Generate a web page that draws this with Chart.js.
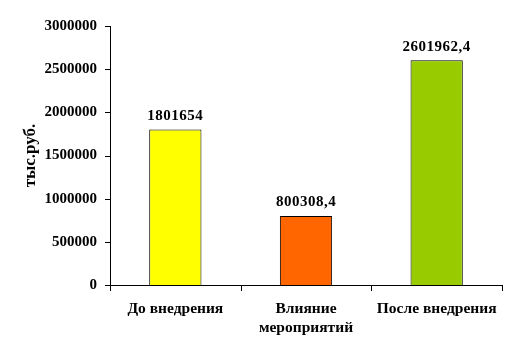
<!DOCTYPE html>
<html>
<head>
<meta charset="utf-8">
<script src="https://cdn.jsdelivr.net/npm/chart.js@4"></script>
<style>
  html, body { margin: 0; padding: 0; background: #fff; }
  canvas { position: absolute; left: 0; top: 0; }
</style>
</head>
<body>
<canvas id="canvas" width="518" height="352"></canvas>
<script>
var categories = ['До внедрения', ['Влияние', 'мероприятий'], 'После внедрения'];
var values = [1801654, 800308.4, 2601962.4];
var valueLabels = ['1801654', '800308,4', '2601962,4'];
var barColors = ['#FFFF00', '#FF6600', '#99CC00'];
var yTicks = [0, 500000, 1000000, 1500000, 2000000, 2500000, 3000000];

var font = { family: '"Liberation Serif", "Times New Roman", serif', size: 15, weight: 'bold' };

// подписи значений над столбцами
var valueLabelPlugin = {
    id: 'valueLabels',
    afterDatasetsDraw: function (chart) {
        var ctx = chart.ctx;
        var meta = chart.getDatasetMeta(0);
        ctx.save();
        ctx.font = 'bold 15px "Liberation Serif", serif';
        ctx.letterSpacing = '0.5px';
        ctx.fillStyle = '#000';
        ctx.textAlign = 'center';
        ctx.textBaseline = 'bottom';
        for (var i = 0; i < meta.data.length; i++) {
            var bar = meta.data[i];
            ctx.fillText(valueLabels[i], bar.x, bar.y - 6);
        }
        ctx.restore();
    }
};

// оси и засечки по шкалам графика
var axisPlugin = {
    id: 'axisLines',
    afterDraw: function (chart) {
        var ctx = chart.ctx;
        var xs = chart.scales.x, ys = chart.scales.y, area = chart.chartArea;
        var left = Math.round(area.left), top = Math.round(area.top);
        var bottom = Math.round(ys.getPixelForValue(0)), right = Math.round(area.right);
        ctx.save();
        ctx.fillStyle = '#000';
        ctx.fillRect(left, top, 1, bottom - top + 1);
        for (var i = 0; i < yTicks.length; i++) {
            var py = Math.round(ys.getPixelForValue(yTicks[i]));
            ctx.fillRect(left - 5, py, 5, 1);
        }
        ctx.fillRect(left, bottom, right - left + 1, 1);
        var n = categories.length;
        for (var j = 0; j <= n; j++) {
            var px = Math.round(xs.left + j * xs.width / n);
            if (j === n) px = right;
            ctx.fillRect(px, bottom, 1, 6);
        }
        ctx.restore();
    }
};

var ctx = document.getElementById('canvas').getContext('2d');
var myChart = new Chart(ctx, {
    type: 'bar',
    data: {
        labels: categories,
        datasets: [{
            data: values,
            backgroundColor: barColors,
            borderColor: '#000',
            borderWidth: 1,
            barPercentage: 0.8,
            categoryPercentage: 0.5
        }]
    },
    plugins: [valueLabelPlugin, axisPlugin],
    options: {
        responsive: false,
        animation: false,
        layout: { padding: { left: 0, top: 26, right: 16, bottom: 0 } },
        plugins: {
            legend: { display: false },
            tooltip: { enabled: false }
        },
        scales: {
            x: {
                grid: { display: false, drawTicks: true, tickLength: 5, offset: true },
                border: { display: false },
                ticks: { color: '#000', font: { family: font.family, size: 15.5, weight: 'bold' }, padding: 10, maxRotation: 0, autoSkip: false },
                afterFit: function (scale) { scale.height = 67; }
            },
            y: {
                min: 0,
                max: 3000000,
                afterBuildTicks: function (scale) {
                    scale.ticks = yTicks.map(function (v) { return { value: v }; });
                },
                grid: { display: false, drawTicks: true, tickLength: 5 },
                border: { display: false },
                ticks: {
                    color: '#000',
                    font: font,
                    padding: 8,
                    callback: function (v) { return String(v); }
                },
                title: { display: true, text: 'тыс.руб.', color: '#000', font: { family: font.family, size: 17, weight: 'bold' }, padding: { top: 20, bottom: 0 } },
                afterFit: function (scale) { scale.width = 110; }
            }
        }
    }
});
</script>
</body>
</html>
